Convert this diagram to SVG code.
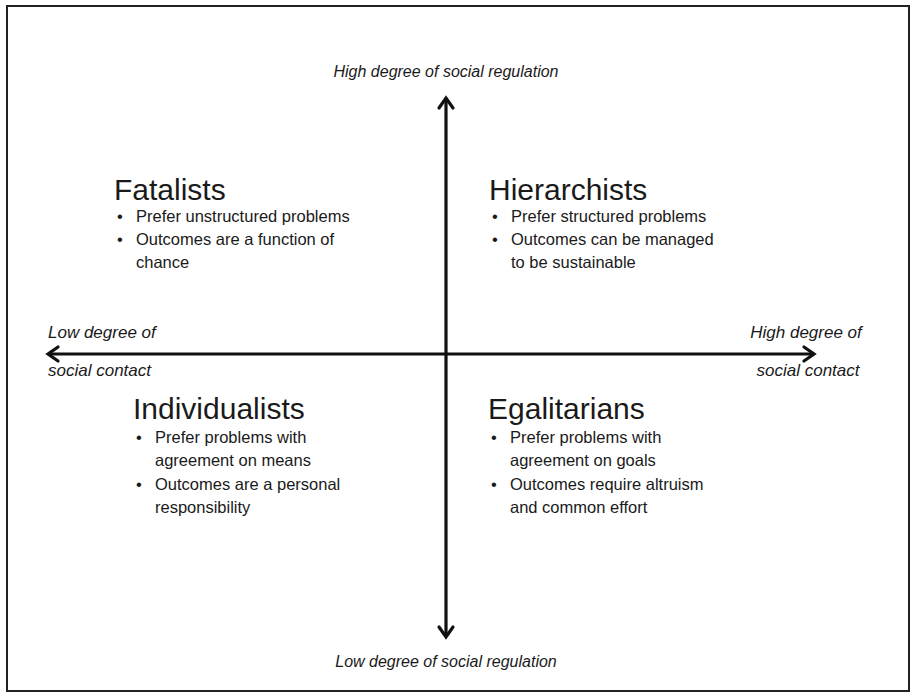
<svg xmlns="http://www.w3.org/2000/svg" width="913" height="696" viewBox="0 0 913 696">
<style>
.h{font-family:"Liberation Sans",Arial,sans-serif;font-size:30px;fill:#1a1a1a}
.b{font-family:"Liberation Sans",Arial,sans-serif;font-size:16.5px;fill:#1a1a1a}
.ax{font-family:"Liberation Sans",Arial,sans-serif;font-size:16px;font-style:italic;fill:#1a1a1a}
.sx{font-family:"Liberation Sans",Arial,sans-serif;font-size:17px;font-style:italic;fill:#1a1a1a}
.ln{stroke:#111;stroke-width:3.2;fill:none}
.hd{stroke:#111;stroke-width:3.2;fill:none;stroke-linecap:round;stroke-linejoin:miter}
</style>
<rect x="0" y="0" width="913" height="696" fill="#fff"/>
<rect x="7" y="6" width="902" height="685" fill="none" stroke="#222" stroke-width="2"/>
<g id="connectors">
<line class="ln" x1="446" y1="99" x2="446" y2="636"/>
<polyline class="hd" points="439,108 446,98 453,108"/>
<polyline class="hd" points="439,627 446,637 453,627"/>
<line class="ln" x1="49" y1="354" x2="813" y2="354"/>
<polyline class="hd" points="58,347 48,354 58,361"/>
<polyline class="hd" points="804,347 814,354 804,361"/>
</g>
<g id="label-top"><text class="ax" x="446" y="77" text-anchor="middle">High degree of social regulation</text></g>
<g id="label-bottom"><text class="ax" x="446" y="667" text-anchor="middle">Low degree of social regulation</text></g>
<g id="label-left"><text class="sx" x="48" y="338">Low degree of</text><text class="sx" x="48" y="376">social contact</text></g>
<g id="label-right"><text class="sx" x="806" y="338" text-anchor="middle">High degree of</text><text class="sx" x="808" y="376" text-anchor="middle">social contact</text></g>
<g id="fatalists">
<text class="h" x="114" y="200">Fatalists</text>
<text class="b" x="117" y="222">•</text><text class="b" x="136" y="222">Prefer unstructured problems</text>
<text class="b" x="117" y="245">•</text><text class="b" x="136" y="245">Outcomes are a function of</text>
<text class="b" x="136" y="268">chance</text>
</g>
<g id="hierarchists">
<text class="h" x="489" y="200">Hierarchists</text>
<text class="b" x="492" y="222">•</text><text class="b" x="511" y="222">Prefer structured problems</text>
<text class="b" x="492" y="245">•</text><text class="b" x="511" y="245">Outcomes can be managed</text>
<text class="b" x="511" y="268">to be sustainable</text>
</g>
<g id="individualists">
<text class="h" x="133" y="419">Individualists</text>
<text class="b" x="136" y="443">•</text><text class="b" x="155" y="443">Prefer problems with</text>
<text class="b" x="155" y="466">agreement on means</text>
<text class="b" x="136" y="490">•</text><text class="b" x="155" y="490">Outcomes are a personal</text>
<text class="b" x="155" y="513">responsibility</text>
</g>
<g id="egalitarians">
<text class="h" x="488" y="419">Egalitarians</text>
<text class="b" x="491" y="443">•</text><text class="b" x="510" y="443">Prefer problems with</text>
<text class="b" x="510" y="466">agreement on goals</text>
<text class="b" x="491" y="490">•</text><text class="b" x="510" y="490">Outcomes require altruism</text>
<text class="b" x="510" y="513">and common effort</text>
</g>
</svg>
